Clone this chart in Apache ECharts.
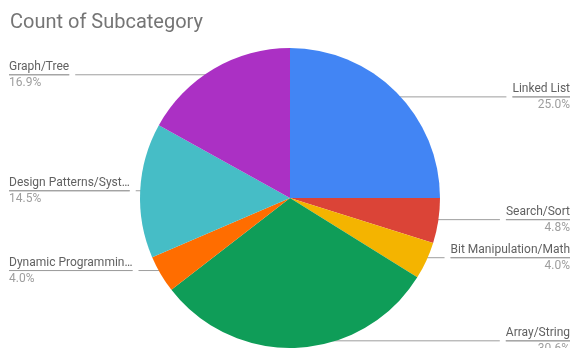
<!DOCTYPE html>
<html>
<head>
<meta charset="utf-8">
<script src="https://cdn.jsdelivr.net/npm/echarts@6/dist/echarts.min.js"></script>
<style>
  html, body { margin: 0; padding: 0; background: #fff; }
  #chart1 { width: 571px; height: 348px; }
</style>
</head>
<body>
<div id="chart1"></div>
<script>
const categories = ['Linked List', 'Search/Sort', 'Bit Manipulation/Math', 'Array/String',
  'Dynamic Programmin…', 'Design Patterns/Syst…', 'Graph/Tree'];
const counts = [31, 6, 5, 38, 5, 18, 21];
const colors = ['#4285f4', '#db4437', '#f4b400', '#0f9d58', '#ff6d00', '#46bdc6', '#ab30c4'];

const getOptionChart1 = () => {
  const slices = categories.map((name, i) => ({
    name: name,
    value: counts[i],
    itemStyle: { color: colors[i] }
  }));
  // second transparent pie, a bit smaller, only carries the labels so that
  // the leader lines start inside the slices like in the original
  const labelSlices = categories.map((name, i) => ({ name: name, value: counts[i] }));
  return {
    textStyle: { fontFamily: 'Roboto' },
    title: {
      text: 'Count of Subcategory',
      left: 5,
      top: 8,
      textStyle: { fontFamily: 'Roboto', fontSize: 20, fontWeight: 'normal', color: '#757575' }
    },
    series: [
      {
        type: 'pie',
        radius: 150,
        center: [290, 198],
        startAngle: 90,
        animation: false,
        silent: true,
        label: { show: false },
        labelLine: { show: false },
        data: slices
      },
      {
        type: 'pie',
        radius: 143,
        center: [282, 198],
        left: 8,
        right: 0,
        top: 0,
        bottom: -10,
        startAngle: 90,
        animation: false,
        silent: true,
        itemStyle: { color: 'rgba(0,0,0,0)' },
        data: labelSlices,
        label: {
          alignTo: 'edge',
          edgeDistance: 1,
          overflow: 'none',
          formatter: (p) => '{name|' + p.name + '}\n{hr|}\n{per|' + p.percent.toFixed(1) + '%}',
          rich: {
            name: { fontFamily: 'Roboto', fontSize: 12, color: '#616161', lineHeight: 14 },
            hr: { borderColor: '#9e9e9e', width: '100%', borderWidth: 1, height: 0, lineHeight: 2 },
            per: { fontFamily: 'Roboto', fontSize: 12, color: '#9e9e9e', lineHeight: 14 }
          }
        },
        labelLine: {
          length: 0,
          length2: 10,
          lineStyle: { color: '#9e9e9e', width: 1 }
        }
      }
    ]
  };
};

const initCharts = () => {
  const chart1 = echarts.init(document.getElementById('chart1'));
  chart1.setOption(getOptionChart1());
};

window.addEventListener('load', () => {
  initCharts();
});
</script>
</body>
</html>
